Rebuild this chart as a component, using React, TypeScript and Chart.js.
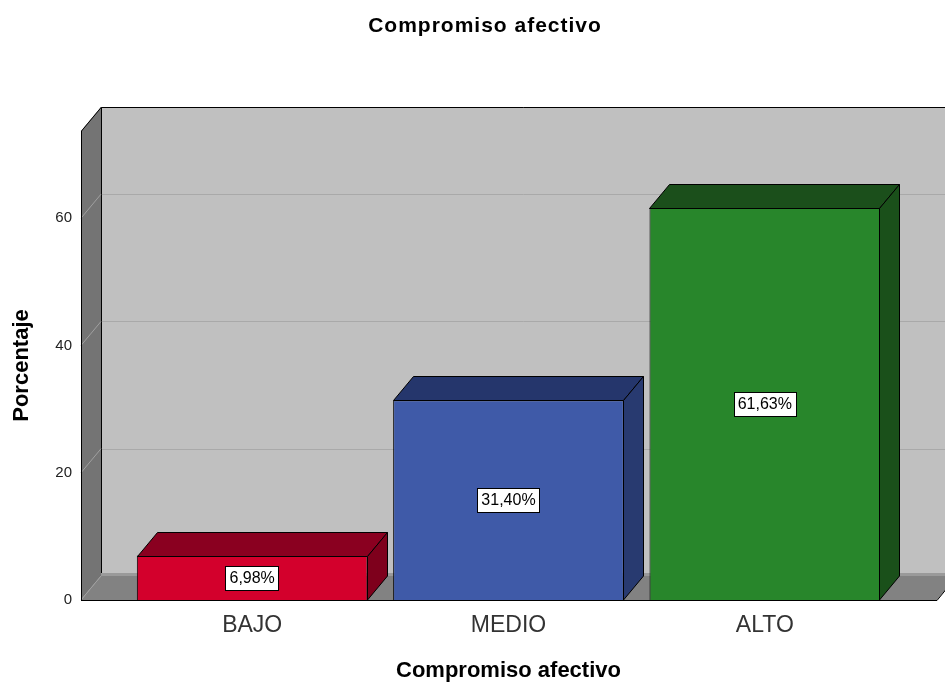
import React, { useEffect, useRef } from "react";
import { Chart, registerables } from "chart.js";

Chart.register(...registerables);

const chartTitle = "Compromiso afectivo";
const xAxisTitle = "Compromiso afectivo";
const yAxisTitle = "Porcentaje";
const categories = ["BAJO", "MEDIO", "ALTO"];
const percentages = [6.98, 31.4, 61.63];
const yMax = 73.7;
const yStep = 20;

const frontColors = ["#d3002c", "#3f5aa8", "#28862b"];
const topColors = ["#8a0020", "#25366c", "#1b4f1b"];
const sideColors = ["#7e001c", "#283a70", "#1a501a"];

// 3D depth offsets and how far the walls/floor reach beyond the category band
const DX = 20;
const DY = -24;
const EXT_L = 43;
const EXT_R = 44;

const fmt = (v: number) => v.toFixed(2).replace(".", ",") + "%";

const wallPlugin = {
  id: "wall3d",
  beforeDatasetsDraw(chart: any) {
    const { ctx, chartArea, scales } = chart;
    const top = chartArea.top;
    const bottom = chartArea.bottom;
    const left = chartArea.left - EXT_L;
    const right = chartArea.right + EXT_R;
    const y = scales.y;
    ctx.save();
    // back wall
    ctx.fillStyle = "#c0c0c0";
    ctx.fillRect(left + DX, top + DY, right - left + 40, bottom - top);
    // grid lines on back wall
    ctx.strokeStyle = "#a9a9a9";
    ctx.lineWidth = 1;
    for (let v = yStep; v < yMax; v += yStep) {
      const py = Math.round(y.getPixelForValue(v) + DY) + 0.5;
      ctx.beginPath();
      ctx.moveTo(left + DX, py);
      ctx.lineTo(right + DX + 40, py);
      ctx.stroke();
    }
    // back wall top edge and left edge
    ctx.strokeStyle = "#000";
    ctx.beginPath();
    ctx.moveTo(left + DX + 0.5, bottom + DY);
    ctx.lineTo(left + DX + 0.5, top + DY + 0.5);
    ctx.lineTo(right + DX + 40, top + DY + 0.5);
    ctx.stroke();
    // floor
    ctx.fillStyle = "#828282";
    ctx.beginPath();
    ctx.moveTo(left, bottom);
    ctx.lineTo(right, bottom);
    ctx.lineTo(right + DX, bottom + DY);
    ctx.lineTo(left + DX, bottom + DY);
    ctx.closePath();
    ctx.fill();
    ctx.fillStyle = "#9a9a9a";
    ctx.fillRect(left + DX, bottom + DY - 3, right - left + 40, 3);
    ctx.strokeStyle = "#000";
    ctx.beginPath();
    ctx.moveTo(left, bottom + 0.5);
    ctx.lineTo(right, bottom + 0.5);
    ctx.lineTo(right + DX, bottom + DY);
    ctx.stroke();
    // left wall
    ctx.fillStyle = "#747474";
    ctx.beginPath();
    ctx.moveTo(left, top);
    ctx.lineTo(left + DX, top + DY);
    ctx.lineTo(left + DX, bottom + DY);
    ctx.lineTo(left, bottom);
    ctx.closePath();
    ctx.fill();
    ctx.strokeStyle = "#a0a0a0";
    for (let v = 0; v < yMax; v += yStep) {
      const py = y.getPixelForValue(v);
      ctx.beginPath();
      ctx.moveTo(left, py);
      ctx.lineTo(left + DX, py + DY);
      ctx.stroke();
    }
    ctx.strokeStyle = "#000";
    ctx.beginPath();
    ctx.moveTo(left + 0.5, bottom);
    ctx.lineTo(left + 0.5, top);
    ctx.lineTo(left + DX + 0.5, top + DY);
    ctx.stroke();
    ctx.restore();
  },
  afterDatasetsDraw(chart: any) {
    const { ctx } = chart;
    const meta = chart.getDatasetMeta(0);
    ctx.save();
    ctx.lineWidth = 1;
    ctx.strokeStyle = "#000";
    meta.data.forEach((bar: any, i: number) => {
      const l = Math.round(bar.x - bar.width / 2) + 0.5;
      const r = Math.round(bar.x + bar.width / 2) - 0.5;
      const t = Math.round(bar.y) + 0.5;
      const b = Math.round(bar.base);
      // top face
      ctx.fillStyle = topColors[i];
      ctx.beginPath();
      ctx.moveTo(l, t);
      ctx.lineTo(r, t);
      ctx.lineTo(r + DX, t + DY);
      ctx.lineTo(l + DX, t + DY);
      ctx.closePath();
      ctx.fill();
      ctx.stroke();
      // side face
      ctx.fillStyle = sideColors[i];
      ctx.beginPath();
      ctx.moveTo(r, t);
      ctx.lineTo(r + DX, t + DY);
      ctx.lineTo(r + DX, b + DY);
      ctx.lineTo(r, b);
      ctx.closePath();
      ctx.fill();
      ctx.stroke();
      // value label
      const text = fmt(percentages[i]);
      ctx.font = "16px 'Liberation Sans', Arial, sans-serif";
      const w = ctx.measureText(text).width + 8;
      const h = 24;
      const cx = bar.x;
      const cy = (bar.y + bar.base) / 2;
      const bx = Math.round(cx - w / 2) + 0.5;
      const by = Math.round(cy - h / 2) + 0.5;
      ctx.fillStyle = "#fff";
      ctx.fillRect(bx, by, Math.round(w), h);
      ctx.strokeRect(bx, by, Math.round(w), h);
      ctx.fillStyle = "#000";
      ctx.textAlign = "center";
      ctx.textBaseline = "middle";
      ctx.fillText(text, cx, cy + 1);
    });
    // chart title
    ctx.font = "bold 21px 'Liberation Sans', Arial, sans-serif";
    (ctx as any).letterSpacing = "1px";
    ctx.fillStyle = "#000";
    ctx.textAlign = "center";
    ctx.textBaseline = "middle";
    ctx.fillText(chartTitle, 485, 26);
    (ctx as any).letterSpacing = "0px";
    ctx.restore();
  },
};

export default function App() {
  const ref = useRef<HTMLCanvasElement | null>(null);
  useEffect(() => {
    if (!ref.current) return;
    const chart = new Chart(ref.current, {
      type: "bar",
      data: {
        labels: categories,
        datasets: [
          {
            data: percentages,
            backgroundColor: frontColors,
            borderColor: "#000",
            borderWidth: 1,
            barPercentage: 0.9,
            categoryPercentage: 1,
          },
        ],
      },
      options: {
        animation: false,
        responsive: false,
        devicePixelRatio: 1,
        layout: { padding: { top: 131, right: 52, left: 0, bottom: 0 } },
        plugins: {
          legend: { display: false },
          title: { display: false },
          tooltip: { enabled: false },
        },
        scales: {
          x: {
            grid: { display: false, drawTicks: false },
            border: { display: false },
            afterFit: (s: any) => {
              s.height = 84;
            },
            ticks: {
              autoSkip: false,
              maxRotation: 0,
              padding: 12,
              color: "#333",
              font: { family: "'Liberation Sans', Arial, sans-serif", size: 23 },
            },
            title: {
              display: true,
              text: xAxisTitle,
              color: "#000",
              padding: { top: 0, bottom: 0 },
              font: { family: "'Liberation Sans', Arial, sans-serif", size: 22, weight: "bold" },
            },
          },
          y: {
            bounds: "data",
            min: 0,
            max: yMax,
            grid: { display: false, drawTicks: false },
            border: { display: false },
            afterFit: (s: any) => {
              s.width = 124;
            },
            ticks: {
              stepSize: yStep,
              includeBounds: false,
              padding: 52,
              color: "#222",
              font: { family: "'Liberation Sans', Arial, sans-serif", size: 15 },
            },
            title: {
              display: true,
              text: yAxisTitle,
              color: "#000",
              padding: { top: 9, bottom: 0 },
              font: { family: "'Liberation Sans', Arial, sans-serif", size: 22, weight: "bold" },
            },
          },
        },
      },
      plugins: [wallPlugin],
    });
    return () => chart.destroy();
  }, []);
  return (
    <div style={{ position: "absolute", left: 0, top: 0, width: 945, height: 684, background: "#fff" }}>
      <canvas ref={ref} width={945} height={684} style={{ display: "block" }} />
    </div>
  );
}
